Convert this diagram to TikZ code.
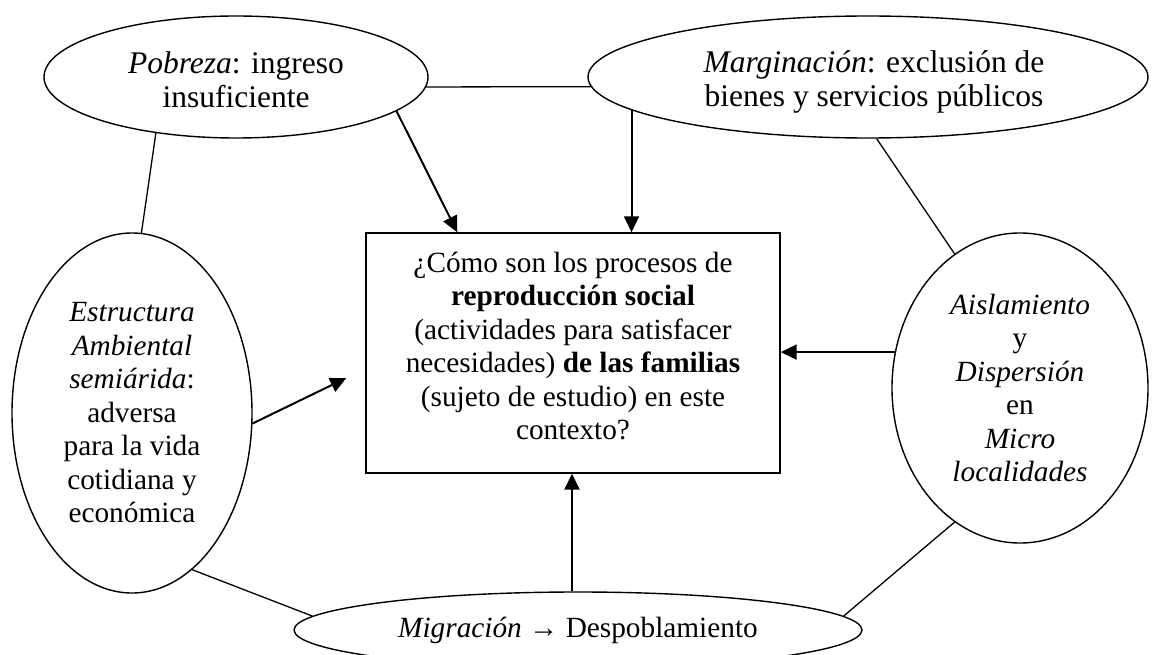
\documentclass[tikz,border=0pt]{standalone}
\usepackage{fontspec}
\setmainfont{Liberation Serif}
\usetikzlibrary{shapes.geometric,arrows.meta,calc}
\begin{document}
\begin{tikzpicture}[x=1pt,y=-1pt,
  txt/.style={font=\fontsize{29.3}{33.5}\selectfont, align=center},
  bigtxt/.style={font=\fontsize{31.5}{34}\selectfont, align=center},
  bubble/.style={ellipse, draw, line width=1.4pt, inner sep=0pt, txt},
  link/.style={line width=1.3pt},
  arr/.style={line width=2pt, -{Triangle[length=16pt,width=15pt]}}]
\clip (0,0) rectangle (1152,655);
\fill[white] (0,0) rectangle (1152,655);
\node[bubble, minimum width=384, minimum height=122] (pob) at (236,77) {};
\node[bigtxt] (pobt) at ($(pob.center)+(0,3)$)
  {\textit{Pobreza}: ingreso\\insuficiente};
\node[bubble, minimum width=560, minimum height=122] (marg) at (868,77) {};
\node[bigtxt] (margt) at ($(marg.center)+(6,5)$)
  {\textit{Marginación}: exclusión de\\bienes y servicios públicos};
\node[bubble, minimum width=240, minimum height=360] (estr) at (132,413)
  {\textit{Estructura}\\\textit{Ambiental}\\\textit{semiárida}:\\adversa\\para la vida\\cotidiana y\\económica};
\node[bubble, minimum width=256, minimum height=310] (aisl) at (1020,388)
  {\textit{Aislamiento}\\y\\\textit{Dispersión}\\en\\\textit{Micro}\\\textit{localidades}};
\node[ellipse, draw, line width=1.4pt, inner sep=0pt, minimum width=568, minimum height=76] (mig) at (578,630) {};
\node[txt] (migt) at (mig) {\textit{Migración} → Despoblamiento};
\node[draw, line width=1.4pt, inner sep=0pt, minimum width=414, minimum height=240] (box) at (573,353) {};
\node[txt] (boxt) at ($(box.center)+(0,-7)$)
  {¿Cómo son los procesos de\\\textbf{reproducción social}\\(actividades para satisfacer\\necesidades) \textbf{de las familias}\\(sujeto de estudio) en este\\contexto?};
\draw[link] (pob.-3) -- (marg.182);
\draw[link] (pob.-145) -- (estr.87);
\draw[link] (marg.-82) -- (aisl.116);
\draw[link] (estr.-69) -- (mig.177);
\draw[link] (aisl.-116) -- (mig.3);
\draw[arr] (pob.-12) -- ($(box.north west)+(92,0)$);
\draw[arr] (marg.188.5) -- (marg.188.5 |- box.north);
\draw[arr] (aisl.164) -- (aisl.164 -| box.east);
\draw[arr] (mig.north -| 572,0) -- (box.south -| 572,0);
\draw[arr] (estr.-5) -- ($(box.west)+(-19,25)$);
\end{tikzpicture}
\end{document}
